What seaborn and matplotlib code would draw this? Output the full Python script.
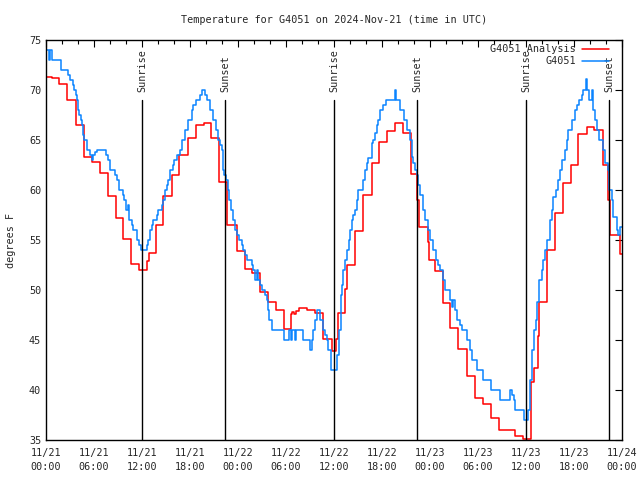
import pandas as pd
import numpy as np
import matplotlib
matplotlib.use('Agg')
import matplotlib.pyplot as plt
import matplotlib.dates as mdates
import seaborn as sns

# hours after 2024-11-21 00:00 UTC, value holds until the next entry
analysis_hours = [0, 0.7, 1.67, 2.58, 3.75, 4.79, 5.71, 6.75, 7.71, 8.71, 9.67, 10.67,
                  11.67, 12.63, 12.88, 13.71, 14.67, 15.71, 16.67, 17.71, 18.71, 19.75,
                  20.58, 21.63, 22.58, 23.83, 24.88, 25.79, 26.75, 27.71, 28.75, 29.75,
                  30.58, 30.8, 31.0, 31.2, 31.67, 32.58, 33.63, 34.67, 35.71, 36.3, 36.5,
                  37.4, 37.58, 38.63, 39.67, 40.71, 41.67, 42.67, 43.67, 44.58, 45.63,
                  46.42, 46.58, 47.79, 47.9, 48.63, 49.58, 50.5, 51.54, 52.58, 53.63,
                  54.67, 55.63, 56.67, 58.58, 59.67, 60.58, 61.0, 61.54, 61.6, 62.67,
                  63.63, 64.58, 65.63, 66.54, 67.58, 68.54, 69.58, 70.3, 70.5, 71.75, 72.0]
analysis_temps = [71.3, 71.2, 70.6, 69.0, 66.5, 63.3, 62.8, 61.7, 59.4, 57.2, 55.1, 52.6,
                  52.0, 52.9, 53.7, 56.5, 59.4, 61.5, 63.5, 65.2, 66.5, 66.7,
                  65.2, 60.8, 56.5, 53.9, 52.1, 51.7, 49.8, 48.8, 48.0, 46.1,
                  47.6, 47.8, 47.6, 47.9, 48.2, 48.0, 47.7, 45.1, 43.9, 45.1, 47.7,
                  50.1, 52.5, 55.9, 59.5, 62.7, 64.8, 65.9, 66.7, 65.7, 61.6,
                  59.0, 56.3, 54.8, 53.0, 51.9, 48.7, 46.2, 44.1, 41.4, 39.2,
                  38.6, 37.2, 36.0, 35.4, 35.1, 40.8, 42.2, 45.4, 48.8, 54.0,
                  57.7, 60.7, 62.5, 65.6, 66.3, 66.0, 62.5, 59.0, 55.5, 53.6, 53.6]

obs_hours = [0, 0.42, 0.5, 0.71, 1.88, 2.79, 3.0, 3.33, 3.5, 3.75, 3.92, 4.04, 4.17, 4.33,
             4.46, 4.67, 4.79, 5.08, 5.17, 5.5, 5.71, 5.92, 6.13, 6.42, 7.5, 7.71, 8.0,
             8.63, 8.83, 9.17, 9.58, 9.75, 10.0, 10.21, 10.42, 10.71, 10.92, 11.33, 11.67,
             11.88, 12.58, 12.79, 13.0, 13.21, 13.42, 13.83, 14.04, 14.46, 14.67, 14.88,
             15.08, 15.29, 15.5, 15.83, 16.0, 16.33, 16.75, 16.96, 17.38, 17.79, 18.21,
             18.42, 18.71, 19.25, 19.46, 19.88, 20.17, 20.5, 20.92, 21.25, 21.54, 21.75,
             21.96, 22.17, 22.29, 22.5, 22.71, 22.92, 23.13, 23.42, 23.63, 23.83, 24.17,
             24.46, 24.67, 24.88, 25.08, 25.71, 25.92, 26.13, 26.33, 26.54, 26.75, 26.96,
             27.38, 27.58, 27.79, 27.92, 28.21, 29.75, 30.42, 30.6, 30.75, 31.1, 31.25,
             32.08, 33.0, 33.21, 33.42, 33.63, 33.83, 34.25, 34.58, 34.88, 35.08, 35.29,
             35.6, 36.42, 36.67, 36.83, 37.0, 37.13, 37.42, 37.6, 37.85, 38.0, 38.21,
             38.42, 38.63, 38.83, 39.04, 39.67, 39.88, 40.08, 40.29, 40.71, 40.92, 41.13,
             41.33, 41.54, 41.75, 42.17, 42.5, 43.63, 43.75, 44.25, 44.75, 45.08, 45.5,
             45.71, 45.92, 46.13, 46.33, 46.54, 46.75, 47.17, 47.38, 47.79, 48.0, 48.42,
             48.75, 49.04, 49.25, 49.58, 49.88, 50.5, 50.71, 50.92, 51.13, 51.33, 51.75,
             51.96, 52.58, 53.0, 53.29, 53.92, 54.58, 55.63, 56.75, 58.0, 58.21, 58.5,
             58.63, 59.79, 60.29, 60.5, 60.71, 61.0, 61.25, 61.42, 61.67, 61.96, 62.17,
             62.38, 62.67, 63.0, 63.21, 63.42, 63.75, 64.04, 64.25, 64.46, 64.88, 65.08,
             65.29, 65.71, 66.13, 66.33, 66.67, 66.96, 67.17, 67.5, 67.67, 67.92, 68.21,
             68.42, 68.63, 68.92, 69.17, 69.58, 69.88, 70.21, 70.42, 70.71, 70.92, 71.33,
             71.54, 71.75, 72.0]
obs_temps = [74, 73, 74, 73, 72, 71.5, 71, 70.5, 70, 69.5, 69, 68, 67.5, 67,
             66.5, 65.5, 65, 64.5, 64, 63.5, 63, 63.5, 63.8, 64, 63.5, 63, 62,
             61.5, 61, 60, 59.5, 59, 58, 58.5, 57, 56.5, 56, 55, 54.5,
             54, 54.5, 55, 56, 56.5, 57, 57.5, 58, 58.5, 59, 60,
             60.5, 61, 62, 62.5, 63, 63.5, 64, 65, 66, 67, 68,
             68.5, 69, 69.5, 70, 69.5, 69, 68, 67, 66, 65, 64.5,
             64, 62, 61.5, 61, 60, 59, 58, 57, 56, 55.5, 55,
             54.5, 54, 53.5, 53, 52.5, 52, 51, 52, 51, 50.5, 50,
             49.5, 49, 48, 47, 46, 45, 46, 45, 46, 45, 46,
             45, 44, 45, 46, 47, 48, 47, 46, 45.5, 45, 44,
             42, 43.5, 46, 49.5, 50.5, 52, 53, 54, 55, 56, 57,
             57.5, 58, 59, 60, 61, 62, 62.7, 63.2, 64.7, 65, 65.7,
             66.5, 67, 68, 68.5, 69, 70, 69, 68, 67, 66, 65,
             63.3, 62.7, 62, 61.5, 60.5, 59.5, 58, 57, 56, 55, 54,
             53, 52.5, 52, 51, 50, 49, 48.3, 49, 48, 47, 46.5,
             46, 45, 44, 43, 42, 41, 40, 39, 40, 39.5, 39,
             38, 37, 38, 41, 44, 46, 47, 48.8, 51, 52, 53,
             54, 55, 57, 58, 59.3, 60, 61, 62, 63, 64, 65,
             66, 67, 68, 68.5, 69, 69.5, 70, 71.1, 70, 69, 70,
             68, 67, 66, 65, 64, 62.7, 62, 60, 59, 57.3, 56,
             55.5, 56.3, 56.3]

sun_hours = [12.04, 22.4, 36.04, 46.4, 60.04, 70.4]
sun_labels = ['Sunrise', 'Sunset', 'Sunrise', 'Sunset', 'Sunrise', 'Sunset']

start = pd.Timestamp('2024-11-21 00:00')


def to_frame(hours, temps, name):
    return pd.DataFrame({'time': start + pd.to_timedelta(hours, unit='h'),
                         'temp': temps, 'series': name})


df = pd.concat([to_frame(analysis_hours, analysis_temps, 'G4051 Analysis'),
                to_frame(obs_hours, obs_temps, 'G4051')], ignore_index=True)

sns.set_style('white')
plt.rcParams['font.family'] = ['DejaVu Sans Mono']
plt.rcParams['font.size'] = 7.3

fig = plt.figure(figsize=(6.4, 4.8), dpi=100)
ax = fig.add_axes([46 / 640, 40 / 480, 576 / 640, 400 / 480])

sns.lineplot(data=df, x='time', y='temp', hue='series', ax=ax,
             palette={'G4051 Analysis': '#ff0000', 'G4051': '#0a84ff'},
             drawstyle='steps-post', linewidth=1.1, estimator=None, sort=False)

for h, lab in zip(sun_hours, sun_labels):
    t = start + pd.Timedelta(hours=h)
    ax.plot([t, t], [35, 69], color='black', linewidth=1)
    ax.text(t, 69.8, lab, rotation=90, ha='center', va='bottom', fontsize=7.3)

ax.set_ylim(35, 75)
ax.set_xlim(start, start + pd.Timedelta(hours=72))
ax.set_yticks(np.arange(35, 76, 5))
ax.xaxis.set_major_locator(mdates.HourLocator(byhour=[0, 6, 12, 18]))
ax.xaxis.set_minor_locator(mdates.HourLocator(byhour=range(0, 24, 2)))
ax.xaxis.set_major_formatter(mdates.DateFormatter('%m/%d\n%H:%M'))
ax.tick_params(axis='both', which='both', direction='in', top=True, right=True,
               labelsize=7.3, color='black')
ax.tick_params(which='major', length=5, width=0.8)
ax.tick_params(which='minor', length=3, width=0.8)
ax.tick_params(axis='x', which='major', pad=6)
for s in ax.spines.values():
    s.set_color('black')
    s.set_linewidth(1)

ax.set_xlabel('')
ax.set_ylabel('degrees F', fontsize=7.3)
ax.yaxis.set_label_coords(-0.052, 0.5)
fig.text((46 + 622) / 2 / 640, 1 - 20 / 480,
         'Temperature for G4051 on 2024-Nov-21 (time in UTC)',
         ha='center', va='center', fontsize=7.3)

leg = ax.legend(loc='upper right', bbox_to_anchor=(0.985, 1.0), frameon=False,
                markerfirst=False, fontsize=7.3, handlelength=2.7, borderaxespad=0,
                labelspacing=0.2, handletextpad=0.6)
for line in leg.get_lines():
    line.set_linewidth(1.1)

fig.canvas.draw()
plt.setp(ax.get_xticklabels(), linespacing=1.45)

fig.savefig('out.png', dpi=100)
